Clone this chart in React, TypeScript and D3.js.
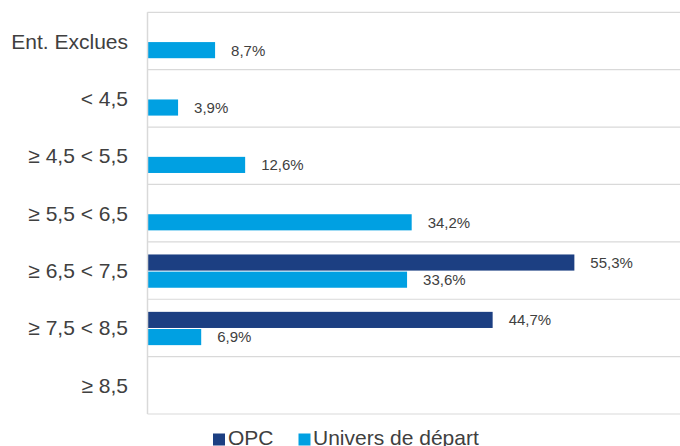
import React from "react";
import * as d3 from "d3";

const categories = ["Ent. Exclues", "< 4,5", "≥ 4,5 < 5,5", "≥ 5,5 < 6,5", "≥ 6,5 < 7,5", "≥ 7,5 < 8,5", "≥ 8,5"];
const seriesNames = ["OPC", "Univers de départ"];
const opcValues: (number | null)[] = [null, null, null, null, 55.3, 44.7, null];
const universValues: (number | null)[] = [8.7, 3.9, 12.6, 34.2, 33.6, 6.9, null];
const colors = ["#1c3f82", "#00a0e2"];

const W = 680;
const H = 446;
const plot = { left: 147.5, right: 680, top: 12.3, bottom: 414 };

export default function App() {
  const y = d3.scaleBand<string>().domain(categories).range([plot.top, plot.bottom]).paddingInner(0).paddingOuter(0);
  const bw = y.bandwidth();
  const inner = d3.scaleBand<string>().domain(seriesNames).range([bw * 0.22, bw * 0.8]).paddingInner(0.06);
  const x = d3.scaleLinear().domain([0, 69]).range([plot.left + 0.5, plot.right]);
  const series = [opcValues, universValues];
  const fmt = (v: number) => v.toFixed(1).replace(".", ",") + "%";
  const textColor = "#404040";
  const font = "Liberation Sans, Arial, sans-serif";

  return (
    <svg width={W} height={H} style={{ position: "fixed", top: 0, left: 0, background: "#fff" }} fontFamily={font}>
      {categories.map((c, i) => (
        <line key={"g" + i} x1={plot.left} x2={plot.right} y1={y(c)!} y2={y(c)!} stroke="#d9d9d9" strokeWidth={1.2} />
      ))}
      <line x1={plot.left} x2={plot.right} y1={plot.bottom} y2={plot.bottom} stroke="#d9d9d9" strokeWidth={1.2} />
      {series.map((vals, si) =>
        vals.map((v, i) =>
          v == null ? null : (
            <g key={`b${si}-${i}`}>
              <rect
                x={x(0)}
                y={y(categories[i])! + inner(seriesNames[si])!}
                width={x(v) - x(0)}
                height={inner.bandwidth()}
                fill={colors[si]}
              />
              <text
                x={x(v) + 16}
                y={y(categories[i])! + inner(seriesNames[si])! + inner.bandwidth() / 2}
                dy="0.36em"
                fontSize={15}
                fill={textColor}
              >
                {fmt(v)}
              </text>
            </g>
          )
        )
      )}
      <line x1={plot.left} x2={plot.left} y1={plot.top} y2={plot.bottom} stroke="#d9d9d9" strokeWidth={1.5} />
      {categories.map((c) => (
        <text key={c} x={128} y={y(c)! + bw / 2} dy="0.36em" textAnchor="end" fontSize={21} fill={textColor}>
          {c}
        </text>
      ))}
      <rect x={213} y={433.5} width={12} height={12} fill={colors[0]} />
      <text x={228} y={445} fontSize={21} fill={textColor}>{seriesNames[0]}</text>
      <rect x={298.5} y={433.5} width={12} height={12} fill={colors[1]} />
      <text x={313} y={445} fontSize={21} fill={textColor}>{seriesNames[1]}</text>
    </svg>
  );
}
